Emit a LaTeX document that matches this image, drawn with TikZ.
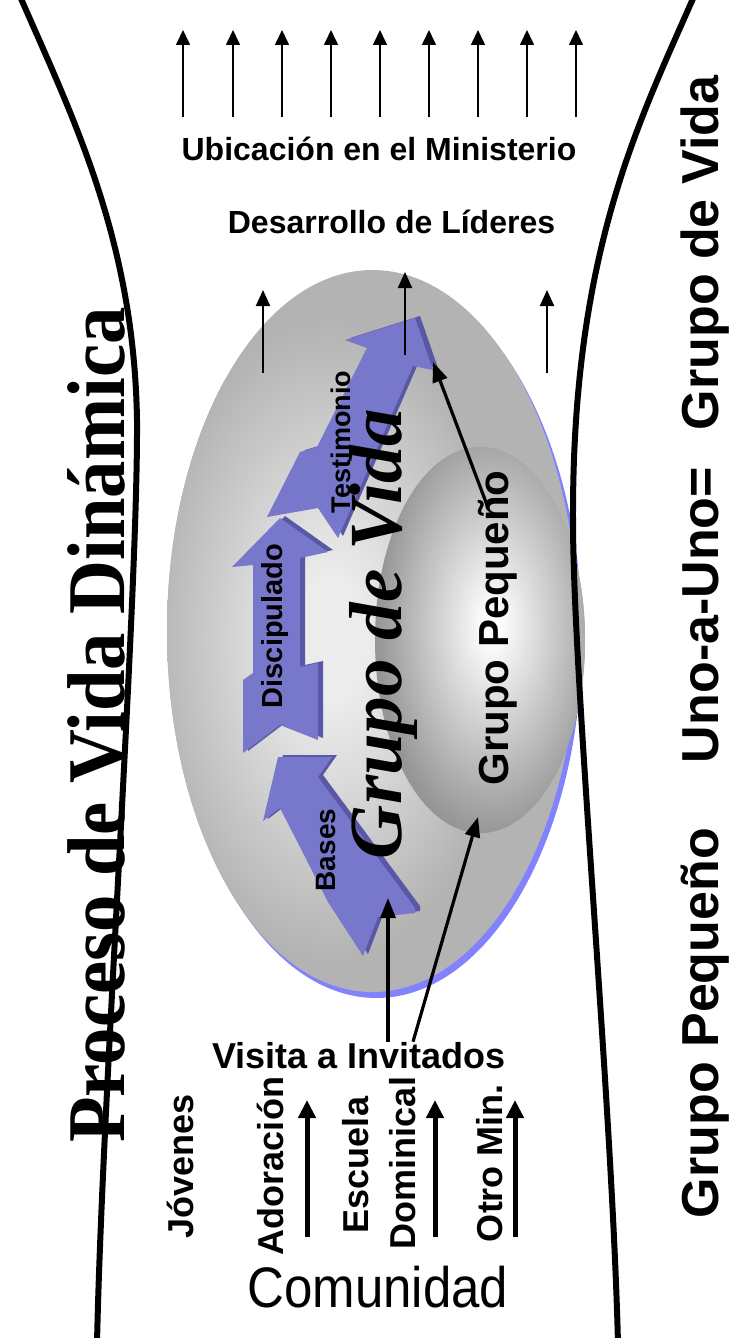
\documentclass[tikz,border=0pt]{standalone}
\usepackage{fontspec}
\setmainfont{Liberation Sans}
\newfontfamily\timesbold{Liberation Serif}
\usetikzlibrary{arrows.meta,shapes.geometric}

\definecolor{gvin}{RGB}{236,236,236}
\definecolor{gvout}{RGB}{179,179,179}
\definecolor{gpin}{RGB}{255,255,255}
\definecolor{gpout}{RGB}{150,150,150}
\definecolor{rimblue}{RGB}{130,130,255}
\definecolor{bluefront}{RGB}{119,119,204}
\definecolor{blueside}{RGB}{88,88,165}

\pgfdeclareradialshading{gvspot}{\pgfpoint{0bp}{0bp}}{color(0bp)=(gvin);color(5bp)=(gvin);color(25bp)=(gvout);color(50bp)=(gvout)}
\pgfdeclareradialshading{gpspot}{\pgfpoint{0bp}{0bp}}{color(0bp)=(gpin);color(1.5bp)=(gpin);color(25bp)=(gpout);color(50bp)=(gpout)}

\begin{document}
\begin{tikzpicture}[x=1pt,y=-1pt,
    txt/.style={inner sep=0pt, anchor=base, font=\bfseries\fontsize{#1}{#1}\selectfont},
    vtxt/.style={txt=#1, rotate=90},
    upthin/.style={-{Triangle[length=15pt,width=14pt]}, line width=1.6pt},
    upmid/.style={-{Triangle[length=16pt,width=14pt]}, line width=2.2pt},
    upthick/.style={-{Triangle[length=18pt,width=17pt]}, line width=5pt},
    visarr/.style={-{Triangle[length=20pt,width=15pt]}, line width=3.2pt},
    rimline/.style={line width=6pt},
    blob/.style={ellipse, inner sep=0pt, draw=none},
    front/.style={fill=bluefront},
    sidewall/.style={fill=blueside, shift={(5,-2)}}]
  \useasboundingbox (0,0) rectangle (740,1338);

  \node[blob, fill=rimblue, minimum width=411pt, minimum height=722pt] (gvrim) at (376.5,637) {};
  \node[blob, fill=gvout, minimum width=411pt, minimum height=722pt] (gv) at (372.5,631) {};
  \begin{scope}
    \clip (gv.center) ellipse [x radius=205.5, y radius=361];
    \shade[shading=gvspot] (330,640) ellipse [x radius=180, y radius=320];
  \end{scope}
  \node[blob, fill=gpout, minimum width=210pt, minimum height=386pt] (gp) at (480,640) {};
  \begin{scope}
    \clip (gp.center) ellipse [x radius=105, y radius=193];
    \shade[shading=gpspot] (492,625) ellipse [x radius=115, y radius=210];
  \end{scope}

  \foreach \style in {sidewall,front}{
    \fill[\style] (278,757) -- (332,757) -- (318,777) -- (415,908) -- (415,913) -- (378,917)
      -- (363,956) -- (328,902) -- (280,808) -- (263,821) -- cycle;
    \fill[\style] (280,518) -- (328,552) -- (300,558) -- (300,667) -- (318,663) -- (318,740)
      -- (280,725) -- (243,753) -- (243,680) -- (253,673) -- (253,565) -- (232,567) -- cycle;
    \fill[\style] (415,318) -- (433,370) -- (413,366) -- (338,538) -- (318,508) -- (267,517)
      -- (300,452) -- (317,447) -- (367,348) -- (345,340) -- cycle;
  }

  \node[vtxt=28] (bases) at (335,850) {Bases};
  \node[vtxt=29] (disc) at (282,626) {Discipulado};
  \node[vtxt=27] (testi) at (350,442) {Testimonio};
  \node[vtxt=42] (gptxt) at (508,628) {Grupo Pequeño};
  \node[rotate=90, inner sep=0pt, anchor=base, font=\timesbold\bfseries\itshape\fontsize{75}{75}\selectfont] (gvtxt) at (401,634) {Grupo de Vida};
  \node[rotate=90, inner sep=0pt, anchor=base, font=\timesbold\bfseries\fontsize{82}{82}\selectfont] (proceso) at (124,725) {\scalebox{0.91}[1]{Proceso de Vida Dinámica}};

  \node[txt=32] (ubic) at (379,160) {Ubicación en el Ministerio};
  \node[txt=32] (lideres) at (391.5,233) {Desarrollo de Líderes};
  \node[txt=36] (visita) at (359,1068) {Visita a Invitados};
  \node[inner sep=0pt, anchor=base, font=\fontsize{51}{51}\selectfont] (comun) at (378,1307) {\scalebox{1}[1.12]{Comunidad}};

  \node[vtxt=36] (jov) at (193,1166) {Jóvenes};
  \node[vtxt=36] (ador) at (283,1166) {Adoración};
  \node[vtxt=36] (escu) at (368,1165) {Escuela};
  \node[vtxt=36] (domi) at (415,1163) {Dominical};
  \node[vtxt=36] (otro) at (502,1163) {Otro Min.};

  \node[vtxt=52] (gpright) at (718,1023) {Grupo Pequeño};
  \node[vtxt=52] (unoauno) at (718,615) {Uno-a-Uno=};
  \node[vtxt=52] (gvright) at (718,253) {Grupo de Vida};

  \foreach \x [count=\i] in {183,233,282,331,380,429,478,527,576}{
    \coordinate (tb\i) at (\x,117);
    \coordinate (tt\i) at (\x,30);
    \draw[upthin] (tb\i) -- (tt\i);
  }
  \foreach \x/\y [count=\i] in {263/373,405/355,547/373}{
    \coordinate (mb\i) at (\x,\y);
    \coordinate (mt\i) at (\x,\y-83);
    \draw[upmid] (mb\i) -- (mt\i);
  }
  \foreach \x [count=\i] in {307,435,515}{
    \coordinate (bb\i) at (\x,1237);
    \coordinate (bt\i) at (\x,1100);
    \draw[upthick] (bb\i) -- (bt\i);
  }

  \coordinate (bastip) at (388,898);
  \coordinate (gpfoot) at (478,817);
  \coordinate (gpmid) at (487,505);
  \coordinate (testip) at (433,362);
  \draw[visarr] (visita.north -| bastip) -- (bastip);
  \draw[visarr] ([xshift=54pt]visita.north) -- (gpfoot);
  \draw[visarr] (gpmid) -- (testip);

  \draw[rimline] (19,-6) .. controls (74,120) and (134,240) .. (137,420)
    .. controls (138,600) and (102,1100) .. (97,1344);
  \draw[rimline] (695,-6) .. controls (640,120) and (572,250) .. (573,520)
    .. controls (573,680) and (612,1100) .. (618,1344);
\end{tikzpicture}
\end{document}
